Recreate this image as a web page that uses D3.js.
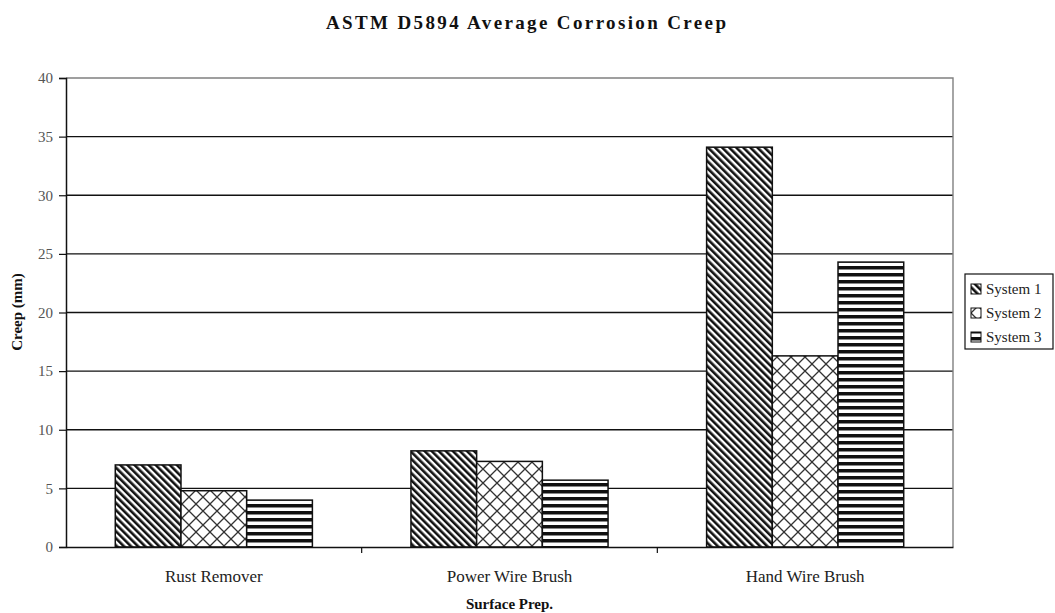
<!DOCTYPE html>
<html>
<head>
<meta charset="utf-8">
<script src="https://cdn.jsdelivr.net/npm/d3@7"></script>
<style>
  body { margin: 0; background: #fff; }
  svg { display: block; }
  text { font-family: "Liberation Serif", "Times New Roman", serif; }
</style>
</head>
<body>
<div id="chart"></div>
<script>
// data
const categories = ["Rust Remover", "Power Wire Brush", "Hand Wire Brush"];
const seriesNames = ["System 1", "System 2", "System 3"];
const system1 = [7.0, 8.2, 34.1];
const system2 = [4.8, 7.3, 16.3];
const system3 = [4.0, 5.7, 24.3];
const yTicks = [0, 5, 10, 15, 20, 25, 30, 35, 40];

const width = 1055, height = 613;
const margin = {top: 78, right: 102, bottom: 66, left: 66};

const svg = d3.select("#chart")
    .append("svg")
    .attr("width", width)
    .attr("height", height);

// fill patterns
const defs = svg.append("defs");

const p1 = defs.append("pattern")
    .attr("id", "pat1")
    .attr("patternUnits", "userSpaceOnUse")
    .attr("width", 5).attr("height", 5)
    .attr("patternTransform", "rotate(-45)");
p1.append("rect").attr("width", 5).attr("height", 5).attr("fill", "#fff");
p1.append("rect").attr("width", 2.6).attr("height", 5).attr("fill", "#111");

const p2 = defs.append("pattern")
    .attr("id", "pat2")
    .attr("patternUnits", "userSpaceOnUse")
    .attr("width", 14).attr("height", 14);
p2.append("rect").attr("width", 14).attr("height", 14).attr("fill", "#fff");
p2.append("path")
    .attr("d", "M0,0L14,14M14,0L0,14M-1,13L1,15M13,-1L15,1")
    .attr("stroke", "#333")
    .attr("stroke-width", 1.3);

const p3 = defs.append("pattern")
    .attr("id", "pat3")
    .attr("patternUnits", "userSpaceOnUse")
    .attr("width", 7).attr("height", 7);
p3.append("rect").attr("width", 7).attr("height", 7).attr("fill", "#fff");
p3.append("rect").attr("width", 7).attr("height", 3.5).attr("fill", "#111");

const fills = ["url(#pat1)", "url(#pat2)", "url(#pat3)"];

const x = d3.scaleBand()
    .domain(categories)
    .range([margin.left, width - margin.right])
    .paddingInner(0)
    .paddingOuter(0);

const xs = d3.scaleBand()
    .domain(seriesNames)
    .range([0, x.bandwidth()])
    .paddingInner(0)
    .paddingOuter(0.75);

const y = d3.scaleLinear()
    .domain([0, 40])
    .range([height - margin.bottom, margin.top]);

// gridlines
svg.append("g")
    .selectAll("line")
    .data(yTicks.filter(d => d > 0 && d < 40))
    .enter()
    .append("line")
    .attr("x1", margin.left)
    .attr("x2", width - margin.right)
    .attr("y1", d => y(d))
    .attr("y2", d => y(d))
    .attr("stroke", "#111")
    .attr("stroke-width", 1.4);

// plot area border (top & right)
svg.append("path")
    .attr("d", `M${margin.left},${y(40)}H${width - margin.right}V${y(0)}`)
    .attr("fill", "none")
    .attr("stroke", "#808080")
    .attr("stroke-width", 1.4);

// bars
const seriesData = [system1, system2, system3];
const groups = svg.append("g")
    .selectAll("g")
    .data(seriesData)
    .enter()
    .append("g")
    .attr("fill", (d, i) => fills[i]);

groups.each(function (vals, si) {
    d3.select(this).selectAll("rect")
        .data(vals)
        .enter()
        .append("rect")
        .attr("x", (d, ci) => x(categories[ci]) + xs(seriesNames[si]))
        .attr("y", d => y(d))
        .attr("width", xs.bandwidth())
        .attr("height", d => y(0) - y(d))
        .attr("stroke", "#111")
        .attr("stroke-width", 1.5);
});

// y axis
const yAxis = svg.append("g")
    .attr("transform", `translate(${margin.left},0)`)
    .call(d3.axisLeft(y).tickValues(yTicks).tickSize(7).tickPadding(6));
yAxis.select(".domain").attr("stroke", "#111").attr("stroke-width", 1.5);
yAxis.selectAll(".tick line").attr("stroke", "#111").attr("stroke-width", 1.2);
yAxis.selectAll(".tick text")
    .style("font-family", "Liberation Serif, serif")
    .style("font-size", "15px")
    .attr("fill", "#555");

// x axis
const xAxis = svg.append("g")
    .attr("transform", `translate(0,${y(0)})`)
    .call(d3.axisBottom(x).tickSize(0).tickPadding(23));
xAxis.select(".domain").attr("stroke", "#111").attr("stroke-width", 1.5);
xAxis.selectAll(".tick text")
    .style("font-family", "Liberation Serif, serif")
    .style("font-size", "17px")
    .attr("fill", "#222");

// category separator ticks
svg.append("g")
    .selectAll("line")
    .data(categories.slice(1))
    .enter()
    .append("line")
    .attr("x1", d => x(d))
    .attr("x2", d => x(d))
    .attr("y1", y(0))
    .attr("y2", y(0) + 6)
    .attr("stroke", "#111")
    .attr("stroke-width", 1.2);

// title
svg.append("text")
    .attr("x", 526)
    .attr("y", 29)
    .attr("text-anchor", "middle")
    .attr("font-size", "19px")
    .attr("font-weight", "bold")
    .attr("fill", "#111")
    .attr("textLength", 400)
    .attr("lengthAdjust", "spacing")
    .text("ASTM D5894 Average Corrosion Creep");

// axis titles
svg.append("text")
    .attr("x", (margin.left + width - margin.right) / 2)
    .attr("y", 609)
    .attr("text-anchor", "middle")
    .attr("font-size", "15px")
    .attr("font-weight", "bold")
    .attr("fill", "#111")
    .text("Surface Prep.");

svg.append("text")
    .attr("transform", "translate(22,312) rotate(-90)")
    .attr("text-anchor", "middle")
    .attr("font-size", "15px")
    .attr("font-weight", "bold")
    .attr("fill", "#111")
    .text("Creep (mm)");

// legend
const legend = svg.append("g").attr("transform", "translate(965,274)");
legend.append("rect")
    .attr("width", 88).attr("height", 75)
    .attr("fill", "#fff")
    .attr("stroke", "#111")
    .attr("stroke-width", 1.2);

const items = legend.selectAll(".item")
    .data(seriesNames)
    .enter()
    .append("g")
    .attr("class", "item")
    .attr("transform", (d, i) => `translate(6,${15 + i * 24})`);

items.append("rect")
    .attr("y", -5)
    .attr("width", 10).attr("height", 10)
    .attr("fill", (d, i) => fills[i])
    .attr("stroke", "#111")
    .attr("stroke-width", 1);

items.append("text")
    .attr("x", 15)
    .attr("dy", "0.35em")
    .attr("font-size", "15px")
    .attr("fill", "#222")
    .text(d => d);
</script>
</body>
</html>
